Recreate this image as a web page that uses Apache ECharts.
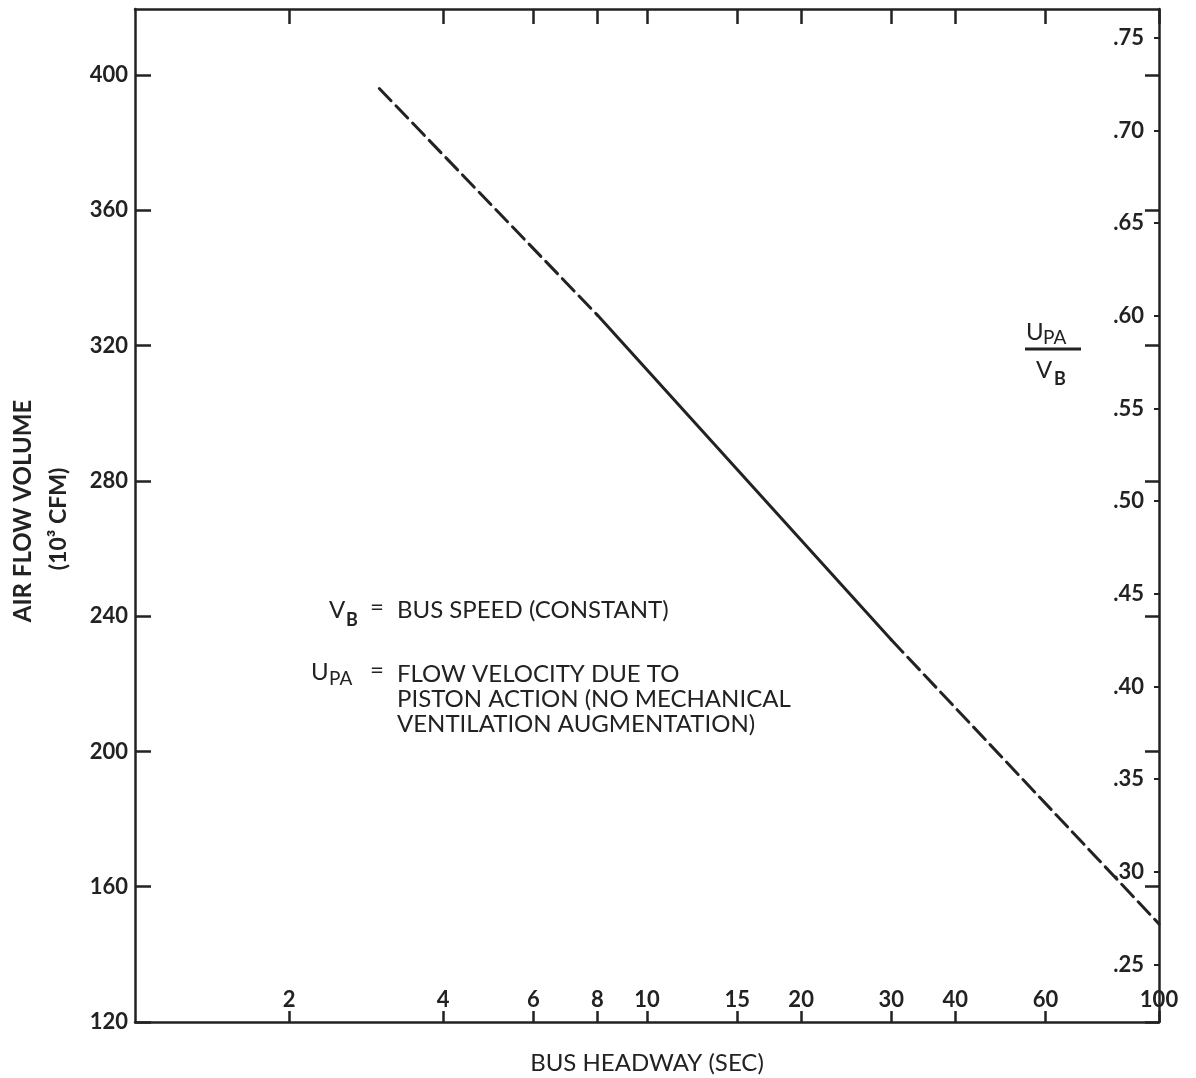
<!DOCTYPE html>
<html><head><meta charset="utf-8">
<script src="https://cdn.jsdelivr.net/npm/echarts@6/dist/echarts.min.js"></script>
<style>html,body{margin:0;padding:0;background:#fff}#c{width:1196px;height:1078px}</style>
</head><body><div id="c"></div>
<script>
// ---- data ----
const headwayTicks = [2, 4, 6, 8, 10, 15, 20, 30, 40, 60, 100];
const volumeTicks = [120, 160, 200, 240, 280, 320, 360, 400];
const ratioTicks = [0.25, 0.30, 0.35, 0.40, 0.45, 0.50, 0.55, 0.60, 0.65, 0.70, 0.75];
const lowDashHeadway = [3, 8];
const lowDashVolume = [396, 329];
const solidHeadway = [8, 30];
const solidVolume = [329, 233];
const highDashHeadway = [30, 100];
const highDashVolume = [233, 149];
const volumeMin = 120, volumeMax = 419.5;
const cfmPerRatio = 548; // volume / (UPA/VB) scale relation

const INK = '#222';
const FONT = 'Lato';
const pairs = (xs, ys) => xs.map((x, i) => [x, ys[i]]);

const chart = echarts.init(document.getElementById('c'), null, {renderer: 'canvas'});

const tickFont = {color: INK, fontFamily: FONT, fontSize: 22, fontWeight: 'bold'};

const option = {
  backgroundColor: '#fff',
  animation: false,
  grid: {left: 135, right: 37, top: 9, bottom: 56, containLabel: false, outerBoundsMode: 'none'},
  xAxis: [
    {
      type: 'log', logBase: 10, min: 1, max: 100, position: 'bottom',
      axisLine: {show: true, onZero: false, lineStyle: {color: INK, width: 2.5}},
      axisTick: {show: true, inside: true, length: 11, customValues: headwayTicks, lineStyle: {color: INK, width: 2.5}},
      axisLabel: Object.assign({show: true, inside: true, margin: 11, customValues: headwayTicks,
        formatter: v => String(Math.round(v))}, tickFont),
      splitLine: {show: false}, minorTick: {show: false},
      name: 'BUS HEADWAY (SEC)', nameLocation: 'middle', nameGap: 29,
      nameTextStyle: {color: INK, fontFamily: FONT, fontSize: 24, fontWeight: 'normal'}
    },
    {
      type: 'log', logBase: 10, min: 1, max: 100, position: 'top',
      axisLine: {show: true, onZero: false, lineStyle: {color: INK, width: 2.5}},
      axisTick: {show: true, inside: true, length: 15, customValues: headwayTicks, lineStyle: {color: INK, width: 2.5}},
      axisLabel: {show: false},
      splitLine: {show: false}
    }
  ],
  yAxis: [
    {
      type: 'value', min: volumeMin, max: volumeMax, position: 'left',
      axisLine: {show: true, onZero: false, lineStyle: {color: INK, width: 2.5}},
      axisTick: {show: true, inside: true, length: 16, customValues: volumeTicks, lineStyle: {color: INK, width: 2.5}},
      axisLabel: Object.assign({show: true, margin: 7, customValues: volumeTicks}, tickFont),
      splitLine: {show: false}
    },
    {
      type: 'value', min: volumeMin, max: volumeMax, position: 'right',
      axisLine: {show: true, onZero: false, lineStyle: {color: INK, width: 2.5}},
      axisTick: {show: true, inside: true, length: 14, customValues: volumeTicks, lineStyle: {color: INK, width: 2.5}},
      axisLabel: {show: false},
      splitLine: {show: false}
    },
    {
      type: 'value', min: volumeMin / cfmPerRatio, max: volumeMax / cfmPerRatio, position: 'right',
      axisLine: {show: false},
      axisTick: {show: true, inside: true, length: 5, customValues: ratioTicks, lineStyle: {color: INK, width: 2}},
      axisLabel: Object.assign({show: true, inside: true, margin: 15, customValues: ratioTicks,
        formatter: v => '.' + String(Math.round(v * 100))}, tickFont),
      splitLine: {show: false}
    }
  ],
  series: [
    {type: 'line', xAxisIndex: 0, yAxisIndex: 0, data: pairs(lowDashHeadway, lowDashVolume),
      symbol: 'none', lineStyle: {color: INK, width: 3, type: [17, 7], cap: 'round'}},
    {type: 'line', xAxisIndex: 0, yAxisIndex: 0, data: pairs(solidHeadway, solidVolume),
      symbol: 'none', lineStyle: {color: INK, width: 3, type: 'solid', cap: 'round'}},
    {type: 'line', xAxisIndex: 0, yAxisIndex: 0, data: pairs(highDashHeadway, highDashVolume),
      symbol: 'none', lineStyle: {color: INK, width: 3, type: [17, 7], cap: 'round'}}
  ],
  graphic: [
    // left axis title (rotated)
    {type: 'text', x: 23, y: 511, rotation: Math.PI / 2,
      style: {text: 'AIR FLOW VOLUME', fill: INK, font: `bold 24px ${FONT}`, align: 'center', verticalAlign: 'middle'}},
    {type: 'text', x: 59, y: 519, rotation: Math.PI / 2,
      style: {text: '(10³ CFM)', fill: INK, font: `bold 23px ${FONT}`, align: 'center', verticalAlign: 'middle'}},
    // notes
    {type: 'text', x: 329, y: 610, style: {text: 'V', fill: INK, font: `24px ${FONT}`, align: 'left', verticalAlign: 'middle'}},
    {type: 'text', x: 346, y: 620, style: {text: 'B', fill: INK, font: `bold 18px ${FONT}`, align: 'left', verticalAlign: 'middle'}},
    {type: 'text', x: 370, y: 607, style: {text: '=', fill: INK, font: `24px ${FONT}`, align: 'left', verticalAlign: 'middle'}},
    {type: 'text', x: 397, y: 610, style: {text: 'BUS SPEED (CONSTANT)', fill: INK, font: `24px ${FONT}`, align: 'left', verticalAlign: 'middle'}},
    {type: 'text', x: 311, y: 672, style: {text: 'U', fill: INK, font: `24px ${FONT}`, align: 'left', verticalAlign: 'middle'}},
    {type: 'text', x: 329, y: 679, style: {text: 'PA', fill: INK, font: `19px ${FONT}`, align: 'left', verticalAlign: 'middle'}},
    {type: 'text', x: 370, y: 670, style: {text: '=', fill: INK, font: `24px ${FONT}`, align: 'left', verticalAlign: 'middle'}},
    {type: 'text', x: 397, y: 674, style: {text: 'FLOW VELOCITY DUE TO', fill: INK, font: `24px ${FONT}`, align: 'left', verticalAlign: 'middle'}},
    {type: 'text', x: 397, y: 699, style: {text: 'PISTON ACTION (NO MECHANICAL', fill: INK, font: `24px ${FONT}`, align: 'left', verticalAlign: 'middle'}},
    {type: 'text', x: 397, y: 724, style: {text: 'VENTILATION AUGMENTATION)', fill: INK, font: `24px ${FONT}`, align: 'left', verticalAlign: 'middle'}},
    // right axis name: UPA / VB
    {type: 'text', x: 1026, y: 332, style: {text: 'U', fill: INK, font: `24px ${FONT}`, align: 'left', verticalAlign: 'middle'}},
    {type: 'text', x: 1043, y: 338, style: {text: 'PA', fill: INK, font: `19px ${FONT}`, align: 'left', verticalAlign: 'middle'}},
    {type: 'line', shape: {x1: 1025, y1: 349, x2: 1081, y2: 349}, style: {stroke: INK, lineWidth: 3}},
    {type: 'text', x: 1036, y: 370, style: {text: 'V', fill: INK, font: `24px ${FONT}`, align: 'left', verticalAlign: 'middle'}},
    {type: 'text', x: 1054, y: 379, style: {text: 'B', fill: INK, font: `bold 18px ${FONT}`, align: 'left', verticalAlign: 'middle'}}
  ]
};
chart.setOption(option);
</script></body></html>
